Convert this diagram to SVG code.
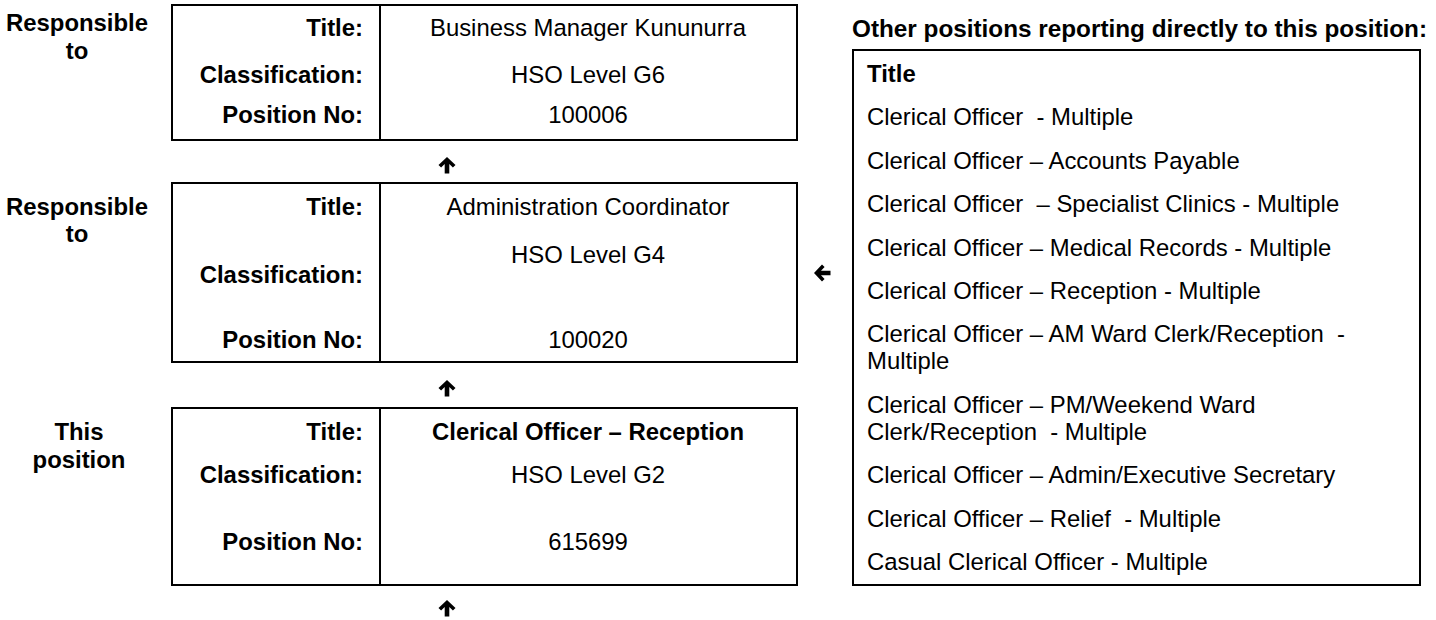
<svg xmlns="http://www.w3.org/2000/svg" width="1436" height="620" viewBox="0 0 1436 620">
<style>
text{font-family:"Liberation Sans",Arial,sans-serif;font-size:23.9px;fill:#000;white-space:pre}
.b{font-weight:bold}
.h{font-size:24.3px}
.r{text-anchor:end;font-weight:bold}
.m{text-anchor:middle}
.box{fill:#fff;stroke:#000;stroke-width:2}
.div{stroke:#000;stroke-width:2}
.arr{fill:#000}
</style>
<defs>
<path id="up" d="M0,0 L8.5,8 L5.9,10.6 L2.3,7 L2.3,16.5 L-2.3,16.5 L-2.3,7 L-5.9,10.6 L-8.5,8 Z"/>
</defs>
<g id="labels">
<text class="b m" x="77" y="31">Responsible</text>
<text class="b m" x="77" y="59">to</text>
<text class="b m" x="77" y="215">Responsible</text>
<text class="b m" x="77" y="242">to</text>
<text class="b m" x="79" y="440">This</text>
<text class="b m" x="79" y="468">position</text>
</g>
<g id="node-manager">
<rect class="box" x="172" y="5" width="625" height="135"/>
<line class="div" x1="380" y1="5" x2="380" y2="140"/>
<text class="r" x="363" y="36">Title:</text>
<text class="r" x="363" y="83">Classification:</text>
<text class="r" x="363" y="123">Position No:</text>
<text class="m" x="588" y="36">Business Manager Kununurra</text>
<text class="m" x="588" y="83">HSO Level G6</text>
<text class="m" x="588" y="123">100006</text>
</g>
<g id="node-coordinator">
<rect class="box" x="172" y="183" width="625" height="179"/>
<line class="div" x1="380" y1="183" x2="380" y2="362"/>
<text class="r" x="363" y="215">Title:</text>
<text class="r" x="363" y="283">Classification:</text>
<text class="r" x="363" y="348">Position No:</text>
<text class="m" x="588" y="215">Administration Coordinator</text>
<text class="m" x="588" y="263">HSO Level G4</text>
<text class="m" x="588" y="348">100020</text>
</g>
<g id="node-this">
<rect class="box" x="172" y="408" width="625" height="177"/>
<line class="div" x1="380" y1="408" x2="380" y2="585"/>
<text class="r" x="363" y="440">Title:</text>
<text class="r" x="363" y="483">Classification:</text>
<text class="r" x="363" y="550">Position No:</text>
<text class="b m" x="588" y="440">Clerical Officer – Reception</text>
<text class="m" x="588" y="483">HSO Level G2</text>
<text class="m" x="588" y="550">615699</text>
</g>
<g id="node-others">
<text class="b h" x="852" y="37">Other positions reporting directly to this position:</text>
<rect class="box" x="853" y="50" width="567" height="535"/>
<text class="b" x="867" y="82">Title</text>
<text x="867" y="125">Clerical Officer  - Multiple</text>
<text x="867" y="169">Clerical Officer – Accounts Payable</text>
<text x="867" y="212">Clerical Officer  – Specialist Clinics - Multiple</text>
<text x="867" y="256">Clerical Officer – Medical Records - Multiple</text>
<text x="867" y="299">Clerical Officer – Reception - Multiple</text>
<text x="867" y="342">Clerical Officer – AM Ward Clerk/Reception  -</text>
<text x="867" y="369">Multiple</text>
<text x="867" y="413">Clerical Officer – PM/Weekend Ward</text>
<text x="867" y="440">Clerk/Reception  - Multiple</text>
<text x="867" y="483">Clerical Officer – Admin/Executive Secretary</text>
<text x="867" y="527">Clerical Officer – Relief  - Multiple</text>
<text x="867" y="570">Casual Clerical Officer - Multiple</text>
</g>
<g id="connectors">
<use href="#up" class="arr" x="447" y="157"/>
<use href="#up" class="arr" x="447" y="380"/>
<use href="#up" class="arr" x="447" y="600"/>
<use href="#up" class="arr" transform="translate(814,273) rotate(-90)"/>
</g>
</svg>
